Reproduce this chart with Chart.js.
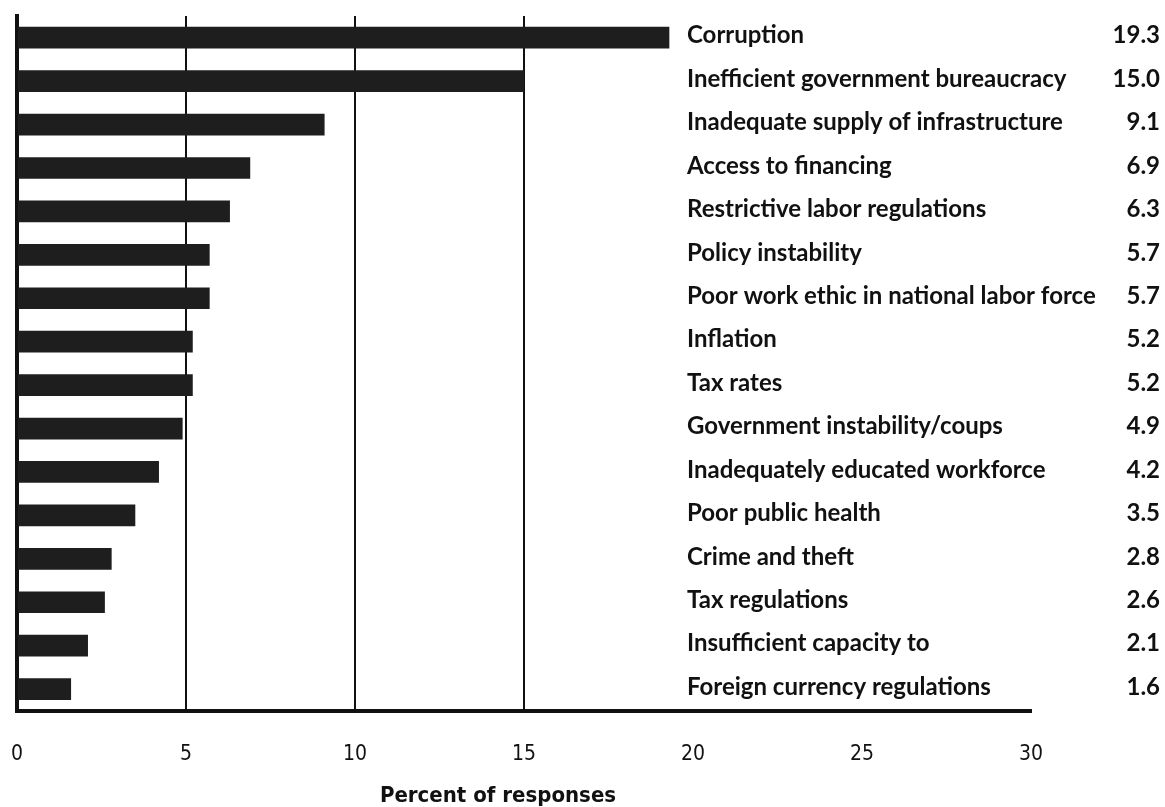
<!DOCTYPE html>
<html>
<head>
<meta charset="utf-8">
<script src="https://cdn.jsdelivr.net/npm/chart.js@4"></script>
<style>
  html, body { margin: 0; padding: 0; background: #fff; overflow: hidden; }
  #wrap { width: 1165px; height: 807px; }
</style>
</head>
<body>
<div id="wrap"><canvas id="myChart" width="1165" height="807"></canvas></div>
<script>
// obstacles, top to bottom
let categories = [
  "Corruption",
  "Inefficient government bureaucracy",
  "Inadequate supply of infrastructure",
  "Access to financing",
  "Restrictive labor regulations",
  "Policy instability",
  "Poor work ethic in national labor force",
  "Inflation",
  "Tax rates",
  "Government instability/coups",
  "Inadequately educated workforce",
  "Poor public health",
  "Crime and theft",
  "Tax regulations",
  "Insufficient capacity to",
  "Foreign currency regulations"
];
let percents = [19.3, 15.0, 9.1, 6.9, 6.3, 5.7, 5.7, 5.2, 5.2, 4.9, 4.2, 3.5, 2.8, 2.6, 2.1, 1.6];
let valueLabels = ["19.3", "15.0", "9.1", "6.9", "6.3", "5.7", "5.7", "5.2", "5.2", "4.9", "4.2", "3.5", "2.8", "2.6", "2.1", "1.6"];
let xTicks = [0, 5, 10, 15, 20, 25, 30];
let gridAt = [5, 10, 15];
let axisTitle = "Percent of responses";

const narrow = "'Liberation Sans Narrow', 'DejaVu Sans Condensed', sans-serif";

// names + numbers written inside the plot on the right, and the axis title
const rightLabels = {
  id: "rightLabels",
  afterDatasetsDraw(chart) {
    const c = chart.ctx;
    const y = chart.scales.y;
    c.save();
    c.fillStyle = "#111";
    c.font = "bold 24px Lato, 'Open Sans', sans-serif";
    c.textBaseline = "middle";
    for (let i = 0; i < categories.length; i++) {
      let py = y.getPixelForValue(i);
      c.textAlign = "left";
      c.fillText(categories[i], 687, py - 2);
      c.textAlign = "right";
      c.fillText(valueLabels[i], 1160, py - 2);
    }
    c.font = "bold 22px " + narrow;
    c.textAlign = "center";
    c.fillText(axisTitle, 498, 796);
    c.restore();
  }
};

const ctx = document.getElementById("myChart").getContext("2d");
const myChart = new Chart(ctx, {
  type: "bar",
  data: {
    labels: categories,
    datasets: [{
      data: percents,
      backgroundColor: "#1e1e1e",
      borderWidth: 0,
      barPercentage: 0.5,
      categoryPercentage: 1.0
    }]
  },
  options: {
    indexAxis: "y",
    responsive: false,
    animation: false,
    layout: { padding: { left: 17, right: 134, top: 16, bottom: 38 } },
    plugins: { legend: { display: false }, tooltip: { enabled: false } },
    scales: {
      x: {
        min: 0, max: 30,
        afterBuildTicks(axis) { axis.ticks = xTicks.map(v => ({ value: v })); },
        border: { display: true, color: "#111", width: 4 },
        grid: {
          drawTicks: true,
          tickLength: 29,
          tickColor: "rgba(0,0,0,0)",
          lineWidth: 2,
          color: (c) => gridAt.includes(c.tick && c.tick.value) ? "#111" : "rgba(0,0,0,0)"
        },
        ticks: {
          color: "#111",
          padding: 2,
          font: { family: narrow, size: 21 }
        }
      },
      y: {
        afterFit(axis) { axis.width = 0; },
        border: { display: true, color: "#111", width: 4 },
        grid: { display: false, drawTicks: false },
        ticks: { display: false }
      }
    }
  },
  plugins: [rightLabels]
});
</script>
</body>
</html>
